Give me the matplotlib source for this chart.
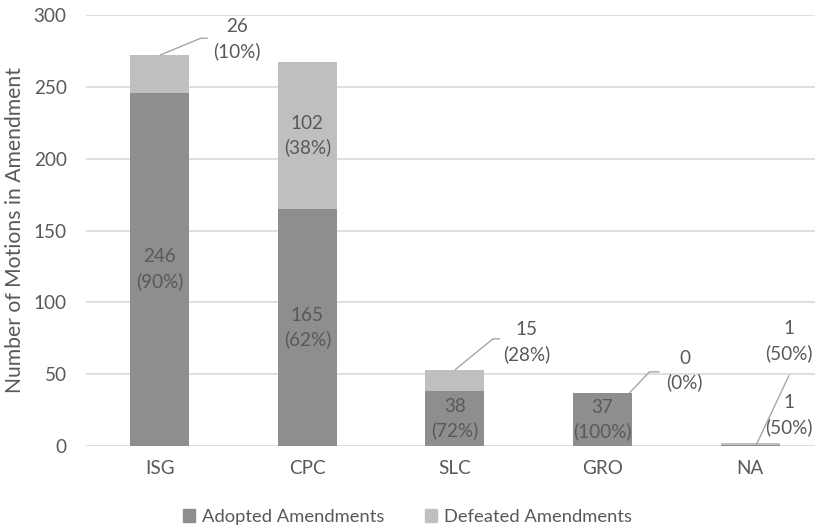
import matplotlib
matplotlib.use("Agg")
import matplotlib.pyplot as plt
from matplotlib.patches import Patch

# Motions in amendment per group
groups = ["ISG", "CPC", "SLC", "GRO", "NA"]
adopted = [246, 165, 38, 37, 1]
defeated = [26, 102, 15, 0, 1]
y_ticks = [0, 50, 100, 150, 200, 250, 300]

ADOPTED_C = "#8e8e8e"
DEFEATED_C = "#bfbfbf"
TEXT_C = "#595959"
GRID_C = "#d9d9d9"
FONT = "Lato"
FS = 13.6

plt.rcParams["font.family"] = [FONT, "DejaVu Sans"]

W, H = 815, 530
fig = plt.figure(figsize=(W / 100, H / 100), dpi=100)
ax_left, ax_bottom = 86 / W, 84 / H
ax_w, ax_h = 1 - ax_left, (515 - 84) / H
ax = fig.add_axes([ax_left, ax_bottom, ax_w, ax_h])

x = list(range(len(groups)))
xlim = (-0.5, 4.44)
ylim = (0, 300)
ax.set_xlim(*xlim)
ax.set_ylim(*ylim)

ax.bar(x, adopted, width=0.4, color=ADOPTED_C, zorder=2)
ax.bar(x, defeated, width=0.4, bottom=adopted, color=DEFEATED_C, zorder=2)

ax.set_yticks(y_ticks)
ax.set_xticks(x)
ax.set_xticklabels(groups)
ax.tick_params(axis="both", length=0, colors=TEXT_C, labelsize=FS)
ax.tick_params(axis="x", pad=10)
ax.tick_params(axis="y", pad=14)
ax.yaxis.grid(True, color=GRID_C, linewidth=1.2, zorder=0)
for s in ax.spines.values():
    s.set_visible(False)

ax.set_ylabel("Number of Motions in Amendment", color=TEXT_C, fontsize=15.2, labelpad=6)

# pixel -> data unit helpers for callout offsets
px_x = (xlim[1] - xlim[0]) / (ax_w * W)
px_y = (ylim[1] - ylim[0]) / (ax_h * H)

def label(a, b):
    total = a + b
    pa = round(100 * a / total) if total else 0
    pb = round(100 * b / total) if total else 0
    return f"{a}\n({pa}%)", f"{b}\n({pb}%)"

kw = dict(ha="center", va="center", color=TEXT_C, fontsize=FS, linespacing=1.45, zorder=4)

def callout(ax_, xa, ya, text, elbow, stub, tpos, line=True):
    ex, ey = xa + elbow[0] * px_x, ya + elbow[1] * px_y
    if line:
        ax_.plot([xa, ex, ex + stub * px_x], [ya, ey, ey], color="#a6a6a6",
                 linewidth=1.0, zorder=3, solid_capstyle="butt")
    ax_.text(xa + tpos[0] * px_x, ya + tpos[1] * px_y, text, **kw)

for i, (a, d) in enumerate(zip(adopted, defeated)):
    la, ld = label(a, d)
    top = a + d
    if groups[i] in ("ISG", "CPC", "SLC", "GRO"):
        ax.text(i, a / 2, la, **kw)
    if groups[i] == "CPC":
        ax.text(i, a + d / 2, ld, **kw)
    elif groups[i] == "ISG":
        callout(ax, i, top, ld, (41, 17), 7, (77, 16))
    elif groups[i] == "SLC":
        callout(ax, i, top, ld, (38, 31), 7, (72, 28))
    elif groups[i] == "GRO":
        callout(ax, i + 27 * px_x, top, ld, (20, 21), 10, (55, 22))
    elif groups[i] == "NA":
        callout(ax, i + 6 * px_x, 0.5, la, (33, 70), 0, (33, 30))
        callout(ax, i, top, ld, (0, 0), 0, (39, 102), line=False)

handles = [Patch(color=ADOPTED_C, label="Adopted Amendments"),
           Patch(color=DEFEATED_C, label="Defeated Amendments")]
fig.legend(handles=handles, loc="center", bbox_to_anchor=(0.5, 13 / H), ncol=2,
           frameon=False, fontsize=13.2, labelcolor=TEXT_C, handlelength=0.65,
           handleheight=0.65, handletextpad=0.4, columnspacing=2.2)

fig.savefig("out.png", dpi=100)
